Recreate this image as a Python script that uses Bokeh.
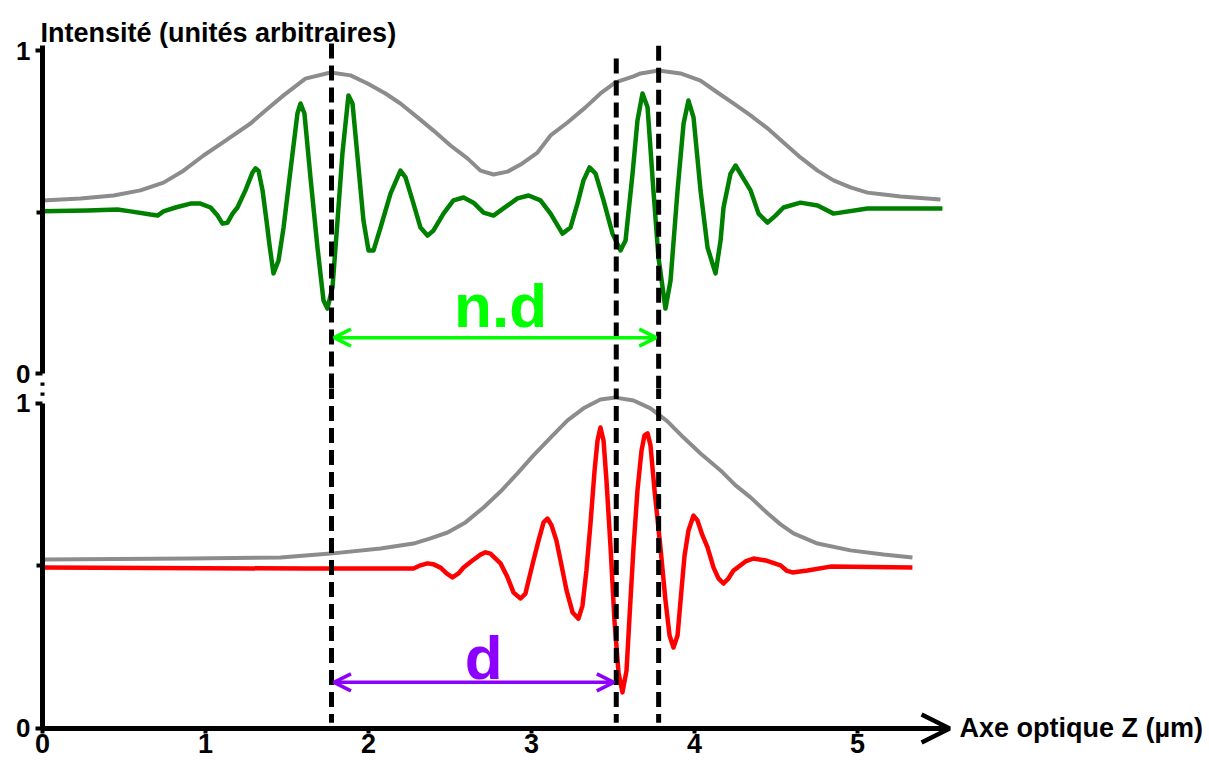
from bokeh.plotting import figure
from bokeh.models import Range1d, FixedTicker, Label, Arrow, OpenHead
from bokeh.layouts import column
from bokeh.embed import file_html
from bokeh.resources import INLINE

# ---------------- data ----------------
# x: optical axis Z (µm); y: intensity (arbitrary units, 0..1 in each panel)
top_env_z = [0.000, 0.233, 0.436, 0.601, 0.742, 0.865, 0.988, 1.123, 1.276, 1.368, 1.479,
             1.613, 1.767, 1.890, 1.994, 2.104, 2.196, 2.301, 2.399, 2.503, 2.607, 2.687,
             2.767, 2.853, 2.933, 3.037, 3.117, 3.221, 3.331, 3.423, 3.515, 3.626, 3.669,
             3.779, 3.914, 4.037, 4.141, 4.239, 4.344, 4.448, 4.546, 4.650, 4.755, 4.853,
             4.957, 5.061, 5.160, 5.264, 5.509]
top_env_i = [0.536, 0.542, 0.551, 0.567, 0.591, 0.628, 0.675, 0.721, 0.774, 0.814, 0.861,
             0.913, 0.932, 0.923, 0.898, 0.867, 0.836, 0.793, 0.752, 0.706, 0.666, 0.628,
             0.616, 0.625, 0.647, 0.684, 0.737, 0.777, 0.824, 0.867, 0.901, 0.920, 0.929,
             0.938, 0.929, 0.907, 0.870, 0.836, 0.799, 0.759, 0.715, 0.669, 0.628, 0.598,
             0.576, 0.560, 0.554, 0.548, 0.539]

top_sig_z = [0.000, 0.276, 0.460, 0.540, 0.663, 0.706, 0.742, 0.816, 0.908, 0.969, 1.031,
             1.074, 1.104, 1.135, 1.166, 1.196, 1.245, 1.288, 1.307, 1.325, 1.350, 1.374,
             1.393, 1.417, 1.448, 1.479, 1.521, 1.564, 1.583, 1.607, 1.644, 1.687, 1.724,
             1.748, 1.779, 1.810, 1.840, 1.877, 1.902, 1.933, 1.969, 2.000, 2.031, 2.074,
             2.135, 2.196, 2.227, 2.270, 2.319, 2.362, 2.399, 2.460, 2.521, 2.583, 2.644,
             2.706, 2.767, 2.828, 2.914, 2.982, 3.055, 3.117, 3.190, 3.239, 3.282, 3.319,
             3.356, 3.393, 3.442, 3.497, 3.546, 3.577, 3.620, 3.650, 3.681, 3.712, 3.748,
             3.779, 3.822, 3.853, 3.896, 3.933, 3.963, 3.994, 4.037, 4.080, 4.129, 4.160,
             4.178, 4.221, 4.252, 4.282, 4.344, 4.393, 4.448, 4.497, 4.546, 4.650, 4.755,
             4.853, 5.061, 5.521]
top_sig_i = [0.502, 0.505, 0.508, 0.502, 0.492, 0.489, 0.502, 0.514, 0.526, 0.526, 0.514,
             0.489, 0.464, 0.467, 0.495, 0.514, 0.567, 0.622, 0.635, 0.628, 0.567, 0.474,
             0.396, 0.310, 0.350, 0.452, 0.628, 0.805, 0.836, 0.805, 0.607, 0.390, 0.226,
             0.201, 0.266, 0.474, 0.681, 0.861, 0.836, 0.669, 0.474, 0.381, 0.381, 0.452,
             0.557, 0.628, 0.607, 0.536, 0.452, 0.427, 0.443, 0.495, 0.536, 0.545, 0.529,
             0.498, 0.489, 0.511, 0.542, 0.551, 0.536, 0.495, 0.433, 0.452, 0.526, 0.598,
             0.638, 0.619, 0.536, 0.433, 0.381, 0.412, 0.619, 0.783, 0.867, 0.824, 0.567,
             0.359, 0.201, 0.288, 0.567, 0.774, 0.845, 0.793, 0.567, 0.390, 0.310, 0.412,
             0.514, 0.619, 0.644, 0.619, 0.567, 0.495, 0.467, 0.489, 0.514, 0.529, 0.520,
             0.495, 0.511, 0.511]

bot_env_z = [0.000, 0.908, 1.460, 1.767, 2.074, 2.276, 2.380, 2.485, 2.595, 2.706, 2.810,
             2.914, 3.012, 3.117, 3.221, 3.319, 3.423, 3.515, 3.626, 3.730, 3.834, 3.933,
             4.037, 4.160, 4.252, 4.344, 4.448, 4.528, 4.607, 4.755, 4.957, 5.160, 5.337]
bot_env_i = [0.520, 0.523, 0.526, 0.538, 0.554, 0.569, 0.585, 0.603, 0.634, 0.680, 0.729,
             0.785, 0.840, 0.895, 0.948, 0.985, 1.012, 1.018, 1.009, 0.985, 0.945, 0.895,
             0.846, 0.794, 0.748, 0.711, 0.662, 0.628, 0.600, 0.569, 0.548, 0.535, 0.526]

bot_sig_z = [0.000, 1.626, 2.276, 2.319, 2.362, 2.399, 2.442, 2.479, 2.515, 2.552, 2.583,
             2.638, 2.687, 2.718, 2.748, 2.810, 2.853, 2.890, 2.933, 2.963, 2.982, 3.012,
             3.043, 3.074, 3.098, 3.123, 3.153, 3.184, 3.215, 3.252, 3.288, 3.313, 3.337,
             3.362, 3.387, 3.405, 3.423, 3.442, 3.460, 3.485, 3.509, 3.534, 3.558, 3.583,
             3.607, 3.626, 3.650, 3.675, 3.693, 3.712, 3.730, 3.755, 3.791, 3.822, 3.847,
             3.871, 3.896, 3.920, 3.939, 3.963, 3.994, 4.018, 4.049, 4.080, 4.117, 4.147,
             4.178, 4.209, 4.239, 4.264, 4.313, 4.362, 4.436, 4.528, 4.564, 4.601, 4.693,
             4.834, 5.337]
bot_sig_i = [0.495, 0.492, 0.492, 0.502, 0.508, 0.505, 0.495, 0.477, 0.465, 0.477, 0.495,
             0.517, 0.535, 0.542, 0.538, 0.508, 0.465, 0.418, 0.400, 0.415, 0.455, 0.517,
             0.578, 0.634, 0.646, 0.625, 0.578, 0.502, 0.425, 0.357, 0.338, 0.378, 0.486,
             0.631, 0.794, 0.886, 0.926, 0.886, 0.763, 0.557, 0.332, 0.172, 0.111, 0.178,
             0.394, 0.557, 0.732, 0.855, 0.902, 0.908, 0.871, 0.732, 0.557, 0.394, 0.286,
             0.249, 0.286, 0.425, 0.532, 0.609, 0.655, 0.640, 0.594, 0.557, 0.495, 0.462,
             0.446, 0.462, 0.486, 0.495, 0.514, 0.523, 0.517, 0.502, 0.486, 0.480, 0.486,
             0.498, 0.495]

# vertical reference positions (µm) and where their dashes start in the upper panel
ref_z = [1.773, 3.52, 3.78]
ref_top_start = [1.022, 0.975, 1.015]
ref_bottom_end = 0.018

y_ticks = [0, 1]
y_minor = [0.5]
x_ticks = [0, 1, 2, 3, 4, 5]

title_text = "Intensité (unités arbitraires)"
xlabel_text = "Axe optique Z (µm)"
nd_text = "n.d"
d_text = "d"
nd_level = 0.111   # arrow height in upper panel
d_level = 0.142    # arrow height in lower panel

# ---------------- styling / layout ----------------
FONT = "Liberation Sans"
GRAY = "#8c8c8c"
DKGREEN = "#008000"
RED = "#ff0000"
LIME = "#00ff00"
VIOLET = "#8c00ff"

PX_PER_UM = 163.0
LEFT_PX = 42
W = 1209
X_AXIS_END = 5.54
xr = Range1d(-LEFT_PX / PX_PER_UM, (W - LEFT_PX) / PX_PER_UM)


def style_y(p, top_bound):
    ax = p.yaxis[0]
    ax.fixed_location = 0
    ax.ticker = FixedTicker(ticks=y_ticks, minor_ticks=y_minor)
    ax.bounds = (0, top_bound)
    ax.axis_line_width = 5
    ax.axis_line_color = "black"
    ax.major_tick_line_width = 4
    ax.major_tick_in = 0
    ax.major_tick_out = 7
    ax.minor_tick_line_width = 4
    ax.minor_tick_in = 0
    ax.minor_tick_out = 6
    ax.major_label_standoff = 5
    ax.major_label_text_font = FONT
    ax.major_label_text_font_style = "bold"
    ax.major_label_text_font_size = "26px"
    ax.major_label_text_color = "black"


common = dict(frame_width=W, toolbar_location=None, output_backend="svg", title=None,
              min_border_left=0, min_border_right=0, min_border_top=0, min_border_bottom=0,
              x_range=xr)

# ---------------- upper panel ----------------
p1 = figure(frame_height=388, y_range=Range1d(-0.0464, 1.1548), x_axis_location=None, **common)
p1.grid.visible = False
p1.outline_line_color = None
style_y(p1, 1.015)

p1.line(top_env_z, top_env_i, line_color=GRAY, line_width=4, line_join="round")
p1.line(top_sig_z, top_sig_i, line_color=DKGREEN, line_width=4.5, line_join="round")
p1.segment(x0=ref_z, y0=ref_top_start, x1=ref_z, y1=[-0.06] * len(ref_z),
           line_color="black", line_width=5, line_dash="15 7")
# small axis-break marks below the upper axis
p1.segment(x0=[0], y0=[-0.028], x1=[0], y1=[-0.038], line_color="black", line_width=4)

p1.add_layout(Arrow(start=OpenHead(size=17, line_color=LIME, line_width=3.5),
                    end=OpenHead(size=17, line_color=LIME, line_width=3.5),
                    x_start=ref_z[0] + 0.015, y_start=nd_level,
                    x_end=ref_z[2] - 0.015, y_end=nd_level,
                    line_color=LIME, line_width=3.5))
p1.add_layout(Label(x=2.81, y=0.211, text=nd_text, text_align="center",
                    text_baseline="middle", text_font=FONT, text_font_style="bold",
                    text_font_size="62px", text_color=LIME))
p1.add_layout(Label(x=-0.012, y=1.053, text=title_text, text_align="left",
                    text_baseline="middle", text_font=FONT, text_font_style="bold",
                    text_font_size="27px", text_color="black"))

# ---------------- lower panel ----------------
p2 = figure(frame_height=372, y_range=Range1d(-0.0985, 1.046), **common)
p2.grid.visible = False
p2.outline_line_color = None
style_y(p2, 1.0)

xa = p2.xaxis[0]
xa.fixed_location = 0
xa.bounds = (0, X_AXIS_END)
xa.ticker = FixedTicker(ticks=x_ticks, minor_ticks=[])
xa.axis_line_width = 5
xa.axis_line_color = "black"
xa.major_tick_line_width = 4
xa.major_tick_in = 0
xa.major_tick_out = 5
xa.minor_tick_out = 0
xa.major_label_standoff = 1
xa.major_label_text_font = FONT
xa.major_label_text_font_style = "bold"
xa.major_label_text_font_size = "27px"
xa.major_label_text_color = "black"

p2.line(bot_env_z, bot_env_i, line_color=GRAY, line_width=4, line_join="round")
p2.line(bot_sig_z, bot_sig_i, line_color=RED, line_width=4.5, line_join="round")
p2.segment(x0=ref_z, y0=[1.06] * len(ref_z), x1=ref_z, y1=[ref_bottom_end] * len(ref_z),
           line_color="black", line_width=5, line_dash="15 7")
p2.segment(x0=[0], y0=[1.034], x1=[0], y1=[1.024], line_color="black", line_width=4)

p2.add_layout(Arrow(start=OpenHead(size=17, line_color=VIOLET, line_width=3.5),
                    end=OpenHead(size=17, line_color=VIOLET, line_width=3.5),
                    x_start=ref_z[0] + 0.015, y_start=d_level,
                    x_end=ref_z[1] - 0.015, y_end=d_level,
                    line_color=VIOLET, line_width=3.5))
p2.add_layout(Label(x=2.706, y=0.218, text=d_text, text_align="center",
                    text_baseline="middle", text_font=FONT, text_font_style="bold",
                    text_font_size="62px", text_color=VIOLET))

# axis arrow head and axis title
p2.add_layout(Arrow(end=OpenHead(size=28, line_color="black", line_width=4.5),
                    x_start=5.3, y_start=0, x_end=5.565, y_end=0,
                    line_color="black", line_width=5))
p2.add_layout(Label(x=5.626, y=0, text=xlabel_text, text_align="left",
                    text_baseline="middle", text_font=FONT, text_font_style="bold",
                    text_font_size="27px", text_color="black"))

layout = column(p1, p2)
open("out.html", "w").write(file_html(layout, INLINE))
